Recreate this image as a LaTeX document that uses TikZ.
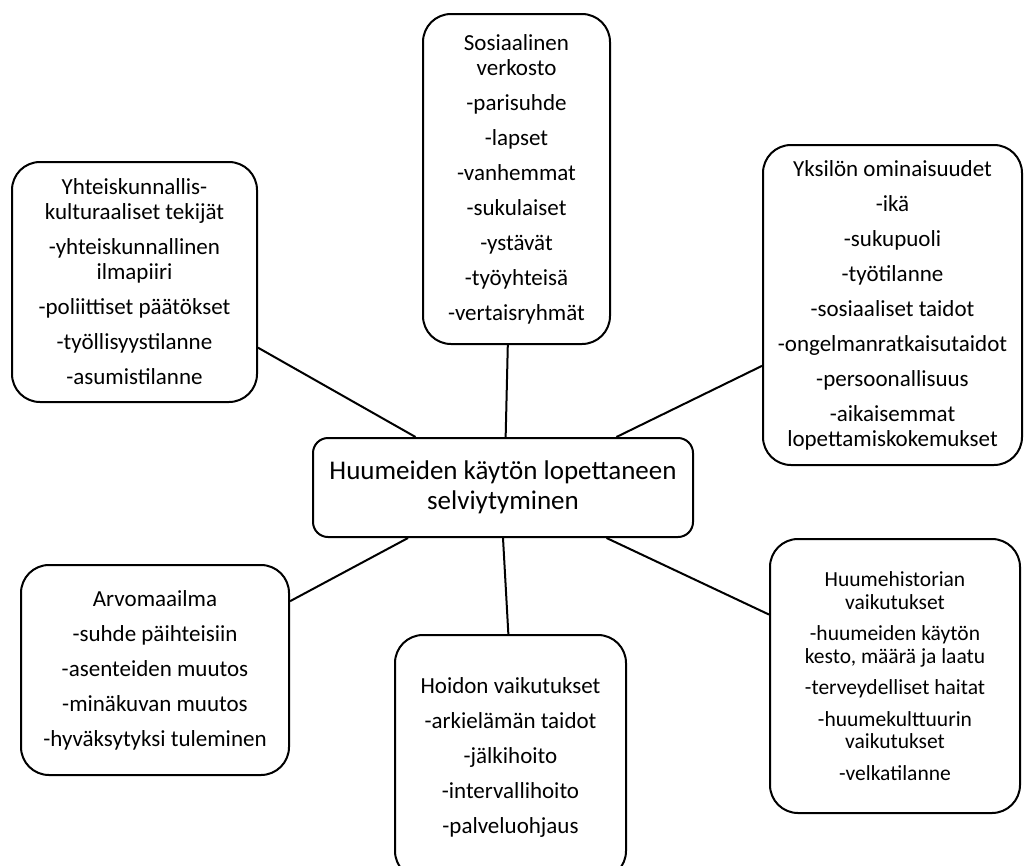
\documentclass[tikz,border=0pt]{standalone}
\usepackage{fontspec}
\setmainfont{Carlito}

\begin{document}
\begin{tikzpicture}[x=1pt,y=-1pt,
    box/.style={draw,line width=2pt,rounded corners=28pt,align=center,inner sep=0pt,font=\fontsize{23}{25}\selectfont},
    smallbox/.style={box,font=\fontsize{21.5}{22.5}\selectfont},
    mainbox/.style={box,rounded corners=15pt,font=\fontsize{27}{30}\selectfont}]
            \clip (0,0) rectangle (1025,865);
            \node (main) at (503,487.5) [mainbox,minimum width=380pt,minimum height=99pt] {Huumeiden käytön lopettaneen\\selviytyminen};
            \node (soc) at (516.5,179) [box,minimum width=187pt,minimum height=330pt] {Sosiaalinen\\verkosto\\[10pt]-parisuhde\\[10pt]-lapset\\[10pt]-vanhemmat\\[10pt]-sukulaiset\\[10pt]-ystävät\\[10pt]-työyhteisä\\[10pt]-vertaisryhmät};
            \node (yht) at (134.5,282) [box,minimum width=245pt,minimum height=240pt] {Yhteiskunnallis-\\kulturaaliset tekijät\\[10pt]-yhteiskunnallinen\\ilmapiiri\\[10pt]-poliittiset päätökset\\[10pt]-työllisyystilanne\\[10pt]-asumistilanne};
            \node (yks) at (892.5,305) [box,minimum width=259pt,minimum height=320pt] {Yksilön ominaisuudet\\[10pt]-ikä\\[10pt]-sukupuoli\\[10pt]-työtilanne\\[10pt]-sosiaaliset taidot\\[10pt]-ongelmanratkaisutaidot\\[10pt]-persoonallisuus\\[10pt]-aikaisemmat\\lopettamiskokemukset};
            \node (arvo) at (155,670) [box,minimum width=268pt,minimum height=210pt] {Arvomaailma\\[10pt]-suhde päihteisiin\\[10pt]-asenteiden muutos\\[10pt]-minäkuvan muutos\\[10pt]-hyväksytyksi tuleminen};
            \node (hoito) at (510.5,757) [box,minimum width=231pt,minimum height=244pt] {Hoidon vaikutukset\\[10pt]-arkielämän taidot\\[10pt]-jälkihoito\\[10pt]-intervallihoito\\[10pt]-palveluohjaus};
            \node (hist) at (895,676) [smallbox,minimum width=250pt,minimum height=274pt] {Huumehistorian\\vaikutukset\\[9pt]-huumeiden käytön\\kesto, määrä ja laatu\\[9pt]-terveydelliset haitat\\[9pt]-huumekulttuurin\\vaikutukset\\[9pt]-velkatilanne};
            \draw[line width=2pt] (soc.267.4) -- (main.87.7) (yht.332.8) -- (main.150.6) (yks.205.8) -- (main.24.8)
                (arvo.27.6) -- (main.208) (hoito.91.6) -- (main.270) (hist.154.4) -- (main.334.1);
        \end{tikzpicture}
\end{document}
